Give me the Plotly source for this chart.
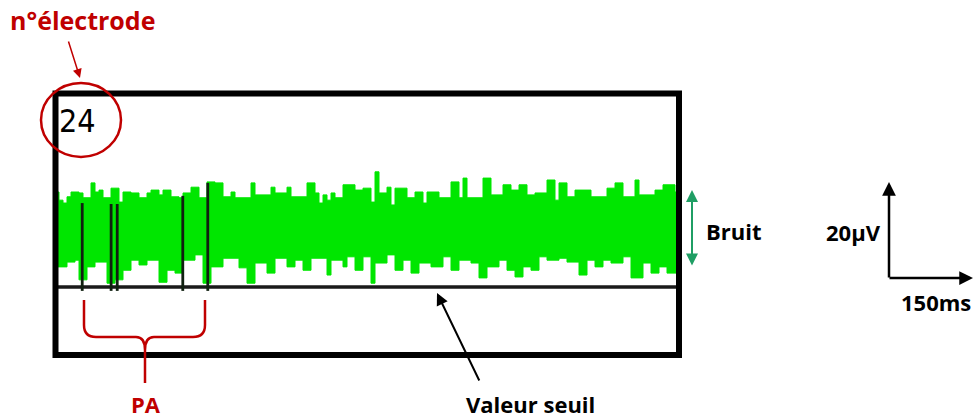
import plotly.graph_objects as go

# ---------------- data ----------------
# sampling step of the trace, ms
dt_ms = 7.2
# upper envelope of the noise, µV
noise_upper = [7.5, 5.8, 5.2, 6.5, 7.5, 7.5, 7.3, 6.3, 6.3, 9.4, 7.5, 7.9, 6.3, 6.3, 8.3, 8.3,
               5.4, 7.5, 7.5, 7.3, 7.3, 6.3, 6.3, 7.3, 7.9, 7.9, 6.9, 7.9, 7.9, 6.5, 6.5, 6.3,
               7.3, 7.3, 8.5, 8.5, 6.3, 6.3, 9.6, 9.6, 9.4, 9.4, 6.5, 6.5, 7.5, 6.3, 6.3, 6.3,
               6.3, 9.4, 6.9, 6.9, 6.9, 6.9, 8.5, 7.3, 7.3, 7.3, 8.5, 6.5, 6.5, 6.5, 6.5, 9.4,
               9.4, 7.3, 5.2, 6.9, 5.8, 7.3, 6.3, 6.3, 9.0, 9.0, 9.0, 7.9, 7.9, 8.3, 8.3, 5.4,
               11.7, 7.3, 7.3, 8.5, 4.8, 8.3, 8.3, 8.3, 6.3, 6.3, 7.5, 7.5, 5.2, 7.5, 7.5, 7.5,
               6.3, 6.3, 6.3, 9.6, 9.6, 6.3, 10.4, 6.3, 6.3, 6.3, 6.3, 10.4, 10.4, 6.9, 6.9, 6.9,
               9.0, 9.0, 7.9, 7.9, 9.0, 9.0, 6.9, 6.9, 7.3, 7.3, 7.3, 10.0, 10.0, 5.8, 9.4, 9.4,
               6.5, 6.5, 7.9, 7.9, 7.9, 7.9, 6.5, 6.5, 6.5, 6.5, 8.3, 8.3, 9.4, 9.4, 6.5, 6.5,
               6.5, 10.0, 6.9, 6.9, 6.9, 6.9, 7.9, 7.9, 9.0, 9.0, 9.0, 7.5, 7.5]
# lower envelope of the noise, µV
noise_lower = [-6.7, -8.1, -8.1, -8.1, -7.1, -7.1, -6.7, -10.8, -10.8, -8.1, -8.1, -7.1, -7.1, -7.1, -11.5, -11.5,
               -10.8, -10.8, -8.8, -8.8, -6.7, -6.7, -7.7, -7.7, -6.7, -6.7, -6.7, -11.3, -11.3, -8.8, -8.8, -9.4,
               -9.4, -6.7, -6.7, -6.7, -5.6, -5.6, -11.5, -11.5, -8.1, -8.1, -8.1, -6.3, -6.3, -6.3, -6.3, -8.3,
               -8.3, -11.5, -11.5, -7.3, -7.3, -7.3, -9.4, -9.4, -6.3, -6.3, -6.3, -8.1, -8.1, -6.7, -6.7, -8.8,
               -8.8, -6.3, -6.3, -6.3, -6.3, -9.8, -6.7, -6.7, -6.7, -8.1, -6.0, -6.0, -8.8, -8.8, -6.0, -6.0,
               -11.5, -7.3, -7.3, -7.3, -5.6, -5.6, -8.8, -8.8, -6.7, -6.7, -9.4, -9.4, -7.3, -7.3, -7.3, -8.1,
               -8.1, -8.1, -6.0, -6.0, -8.8, -8.8, -6.7, -6.7, -6.7, -7.3, -7.3, -10.4, -10.4, -8.1, -8.1, -8.1,
               -6.7, -6.7, -8.8, -8.8, -10.2, -10.2, -8.1, -8.1, -8.8, -8.8, -6.0, -6.0, -6.7, -6.7, -6.7, -6.3,
               -6.3, -7.1, -7.1, -7.1, -9.8, -9.8, -6.7, -6.7, -8.1, -8.1, -6.7, -6.7, -7.3, -7.3, -7.3, -6.0,
               -6.0, -10.4, -10.4, -10.4, -7.3, -7.3, -9.4, -9.4, -8.1, -8.1, -9.4, -9.4, -9.4]
# action potentials (PA): time (ms), peak (µV), trough (µV)
spike_times = [49, 101, 112, 230, 275]
spike_peaks = [5.2, 5.0, 5.0, 6.7, 9.4]
spike_troughs = [-13.1, -13.1, -13.1, -13.1, -13.1]
# threshold value (µV)
threshold_uV = -12.3
electrode_label = "24"
scale_v_label = "20µV"
scale_t_label = "150ms"

# ---------------- figure ----------------
W, H = 974, 419
def fx(x):
    return x / W
def fy(y):
    return 1 - y / H

t_up = [i * dt_ms for i in range(len(noise_upper))]
t_lo = [i * dt_ms for i in range(len(noise_lower))]
t_end = max(t_up[-1], t_lo[-1])

fig = go.Figure()
# noise band
fig.add_trace(go.Scatter(
    x=t_up + t_lo[::-1], y=noise_upper + noise_lower[::-1],
    mode="lines", line=dict(color="#00e600", width=1, shape="hv"),
    fill="toself", fillcolor="#00e600", hoverinfo="skip", showlegend=False))
# threshold
fig.add_trace(go.Scatter(
    x=[0, t_end], y=[threshold_uV, threshold_uV], mode="lines",
    line=dict(color="#1a1a1a", width=3.5), hoverinfo="skip", showlegend=False))
# spikes
sx, sy = [], []
for t, p, b in zip(spike_times, spike_peaks, spike_troughs):
    sx += [t, t, None]
    sy += [b, p, None]
fig.add_trace(go.Scatter(x=sx, y=sy, mode="lines",
                         line=dict(color="#102010", width=2.8),
                         hoverinfo="skip", showlegend=False))

# axes: px 55..679 horizontally, px 96..352 vertically, 4.8 px per µV, 0 µV at px 228
y_top_uV = (228 - 96) / 4.8
y_bot_uV = (228 - 352) / 4.8
fig.update_layout(
    width=W, height=H, margin=dict(l=0, r=0, t=0, b=0),
    paper_bgcolor="white", plot_bgcolor="rgba(0,0,0,0)",
    xaxis=dict(domain=[fx(55), fx(679)], range=[0, t_end], visible=False, fixedrange=True),
    yaxis=dict(domain=[fy(352), fy(96)], range=[y_bot_uV, y_top_uV], visible=False, fixedrange=True),
    showlegend=False, hovermode=False,
)

shapes = []
# frame
shapes.append(dict(type="rect", xref="paper", yref="paper",
                   x0=fx(55.5), x1=fx(679), y0=fy(93.5), y1=fy(355),
                   line=dict(color="black", width=6), layer="above"))
# red circle around the electrode number
shapes.append(dict(type="circle", xref="paper", yref="paper",
                   x0=fx(41), x1=fx(121), y0=fy(83), y1=fy(157),
                   line=dict(color="#c00000", width=2.5), layer="above"))
# PA curly brace
def P(x, y):
    return f"{fx(x):.5f},{fy(y):.5f}"
brace = ("M " + P(84, 300) + " L " + P(84, 325) + " Q " + P(84, 337) + " " + P(96, 337) +
         " L " + P(136, 337) + " Q " + P(145, 337) + " " + P(145, 350) + " L " + P(145, 383) +
         " M " + P(145, 350) + " Q " + P(145, 337) + " " + P(154, 337) + " L " + P(193, 337) +
         " Q " + P(205, 337) + " " + P(205, 325) + " L " + P(205, 300))
shapes.append(dict(type="path", xref="paper", yref="paper", path=brace,
                   line=dict(color="#c00000", width=2.5), layer="above"))
fig.update_layout(shapes=shapes)

ann = []
BOLD = dict(family="Open Sans", size=22)
def text(s, x, y, color, xanchor="center", font=None):
    f = dict(BOLD) if font is None else dict(font)
    f["color"] = color
    ann.append(dict(text=s, x=fx(x), y=fy(y), xref="paper", yref="paper",
                    xanchor=xanchor, yanchor="middle", showarrow=False, font=f))
def arrow(hx, hy, tx, ty, color, width=2, head=2, size=1.0, side="end"):
    ann.append(dict(text="", x=fx(hx), y=fy(hy), xref="paper", yref="paper",
                    ax=tx - hx, ay=ty - hy, showarrow=True, arrowhead=head,
                    arrowsize=size, arrowwidth=width, arrowcolor=color,
                    arrowside=side, standoff=0, startstandoff=0))

text("<b>n°électrode</b>", 8, 20, "#c00000", xanchor="left",
     font=dict(family="Open Sans", size=25))
text(electrode_label, 57, 121, "black", xanchor="left",
     font=dict(family="DejaVu Sans Condensed, Liberation Sans Narrow, Liberation Sans", size=32))
text("<b>Bruit</b>", 704, 231, "black", xanchor="left")
text("<b>" + scale_v_label + "</b>", 883, 232, "black", xanchor="right")
text("<b>" + scale_t_label + "</b>", 936, 302, "black")
text("<b>PA</b>", 146, 404, "#c00000")
text("<b>Valeur seuil</b>", 530, 404, "black")

arrow(80, 78, 68, 40, "#c00000", width=1.5, head=2, size=1.2)
arrow(692, 190, 692, 267, "#1f9e64", width=2, head=2, size=1.2, side="end+start")
arrow(437, 293, 480, 382, "black", width=2, head=2, size=1.2)
arrow(889, 182, 889, 279, "black", width=2.5, head=2, size=1.1)
arrow(973, 278, 888, 278, "black", width=2.5, head=2, size=1.1)
fig.update_layout(annotations=ann)

fig.write_html("out.html", config={"displayModeBar": False, "staticPlot": True},
               post_script="document.body.style.margin='0';document.body.style.overflow='hidden';")
